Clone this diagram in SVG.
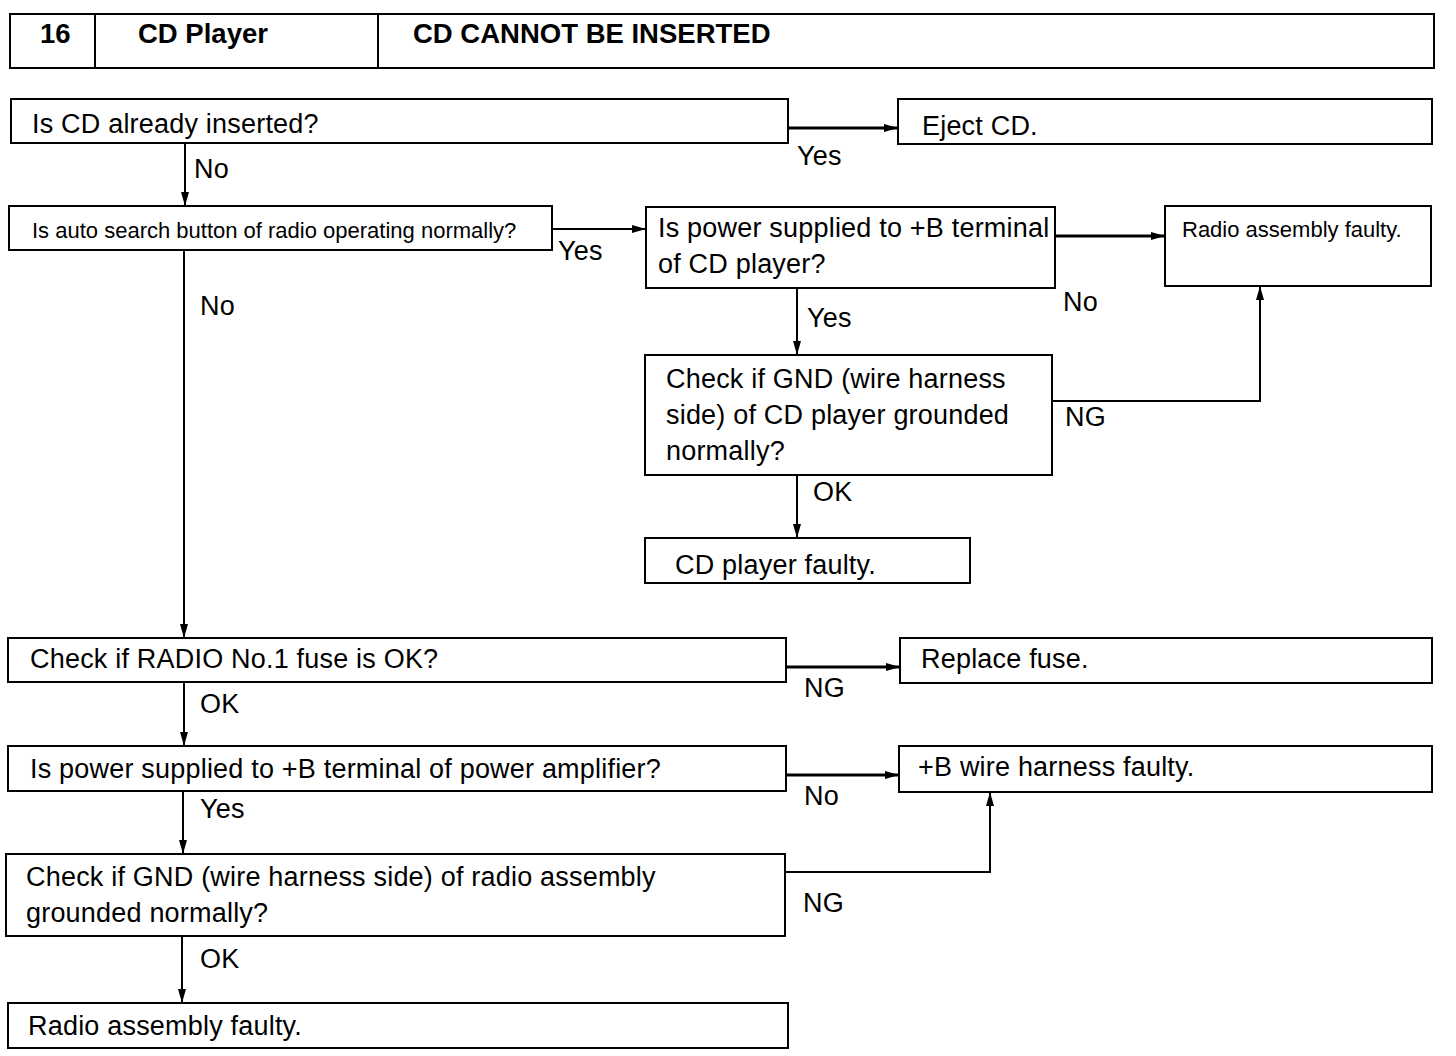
<svg xmlns="http://www.w3.org/2000/svg" width="1456" height="1056" viewBox="0 0 1456 1056">
<style>
.box{fill:#fff;stroke:#000;stroke-width:2}
.t{font-family:"Liberation Sans",Arial,sans-serif;font-size:27px;letter-spacing:0.2px;fill:#000}
.s{font-family:"Liberation Sans",Arial,sans-serif;font-size:22px;fill:#000}
.h{font-family:"Liberation Sans",Arial,sans-serif;font-size:27.5px;font-weight:bold;fill:#000}
.c{fill:none;stroke:#000;stroke-width:2}
.ct{fill:none;stroke:#000;stroke-width:3}
</style>
<defs>
<marker id="a" markerWidth="14" markerHeight="10" refX="13" refY="5" orient="auto" markerUnits="userSpaceOnUse">
<path d="M0,1 L14,5 L0,9 Z" fill="#000"/>
</marker>
</defs>
<rect width="1456" height="1056" fill="#fff"/>
<g id="header">
<rect class="box" x="10" y="14" width="1424" height="54"/>
<line class="c" x1="95" y1="14" x2="95" y2="68"/>
<line class="c" x1="378" y1="14" x2="378" y2="68"/>
<text class="h" x="40" y="43">16</text>
<text class="h" x="138" y="43">CD Player</text>
<text class="h" x="413" y="43">CD CANNOT BE INSERTED</text>
</g>
<g id="n1"><rect class="box" x="11" y="99" width="777" height="44"/><text class="t" x="32" y="133">Is CD already inserted?</text></g>
<g id="n2"><rect class="box" x="898" y="99" width="534" height="45"/><text class="t" x="922" y="135">Eject CD.</text></g>
<g id="n3"><rect class="box" x="9" y="206" width="543" height="44"/><text class="s" x="32" y="238">Is auto search button of radio operating normally?</text></g>
<g id="n4"><rect class="box" x="646" y="207" width="409" height="81"/><text class="t" x="658" y="237">Is power supplied to +B terminal</text><text class="t" x="658" y="273">of CD player?</text></g>
<g id="n5"><rect class="box" x="1165" y="206" width="266" height="80"/><text class="s" x="1182" y="237">Radio assembly faulty.</text></g>
<g id="n6"><rect class="box" x="645" y="355" width="407" height="120"/><text class="t" x="666" y="388">Check if GND (wire harness</text><text class="t" x="666" y="424">side) of CD player grounded</text><text class="t" x="666" y="460">normally?</text></g>
<g id="n7"><rect class="box" x="645" y="538" width="325" height="45"/><text class="t" x="675" y="574">CD player faulty.</text></g>
<g id="n8"><rect class="box" x="8" y="638" width="778" height="44"/><text class="t" x="30" y="668">Check if RADIO No.1 fuse is OK?</text></g>
<g id="n9"><rect class="box" x="900" y="638" width="532" height="45"/><text class="t" x="921" y="668">Replace fuse.</text></g>
<g id="n10"><rect class="box" x="8" y="746" width="778" height="45"/><text class="t" x="30" y="778">Is power supplied to +B terminal of power amplifier?</text></g>
<g id="n11"><rect class="box" x="899" y="746" width="533" height="46"/><text class="t" x="918" y="776">+B wire harness faulty.</text></g>
<g id="n12"><rect class="box" x="6" y="854" width="779" height="82"/><text class="t" x="26" y="886">Check if GND (wire harness side) of radio assembly</text><text class="t" x="26" y="922">grounded normally?</text></g>
<g id="n13"><rect class="box" x="8" y="1003" width="780" height="45"/><text class="t" x="28" y="1035">Radio assembly faulty.</text></g>
<g id="connectors">
<line class="ct" x1="788" y1="128" x2="897" y2="128" marker-end="url(#a)"/>
<line class="c" x1="185" y1="143" x2="185" y2="205" marker-end="url(#a)"/>
<line class="c" x1="552" y1="229" x2="645" y2="229" marker-end="url(#a)"/>
<line class="ct" x1="1055" y1="236" x2="1164" y2="236" marker-end="url(#a)"/>
<line class="c" x1="797" y1="288" x2="797" y2="354" marker-end="url(#a)"/>
<polyline class="c" points="1052,401 1260,401 1260,287" marker-end="url(#a)"/>
<line class="c" x1="797" y1="475" x2="797" y2="537" marker-end="url(#a)"/>
<line class="c" x1="184" y1="250" x2="184" y2="637" marker-end="url(#a)"/>
<line class="ct" x1="786" y1="667" x2="899" y2="667" marker-end="url(#a)"/>
<line class="c" x1="184" y1="682" x2="184" y2="745" marker-end="url(#a)"/>
<line class="ct" x1="786" y1="775" x2="898" y2="775" marker-end="url(#a)"/>
<line class="c" x1="183" y1="791" x2="183" y2="853" marker-end="url(#a)"/>
<polyline class="c" points="785,872 990,872 990,793" marker-end="url(#a)"/>
<line class="c" x1="182" y1="936" x2="182" y2="1002" marker-end="url(#a)"/>
<text class="t" x="797" y="165">Yes</text>
<text class="t" x="194" y="178">No</text>
<text class="t" x="558" y="260">Yes</text>
<text class="t" x="1063" y="311">No</text>
<text class="t" x="807" y="327">Yes</text>
<text class="t" x="1065" y="426">NG</text>
<text class="t" x="813" y="501">OK</text>
<text class="t" x="200" y="315">No</text>
<text class="t" x="804" y="697">NG</text>
<text class="t" x="200" y="713">OK</text>
<text class="t" x="804" y="805">No</text>
<text class="t" x="200" y="818">Yes</text>
<text class="t" x="803" y="912">NG</text>
<text class="t" x="200" y="968">OK</text>
</g>
</svg>
